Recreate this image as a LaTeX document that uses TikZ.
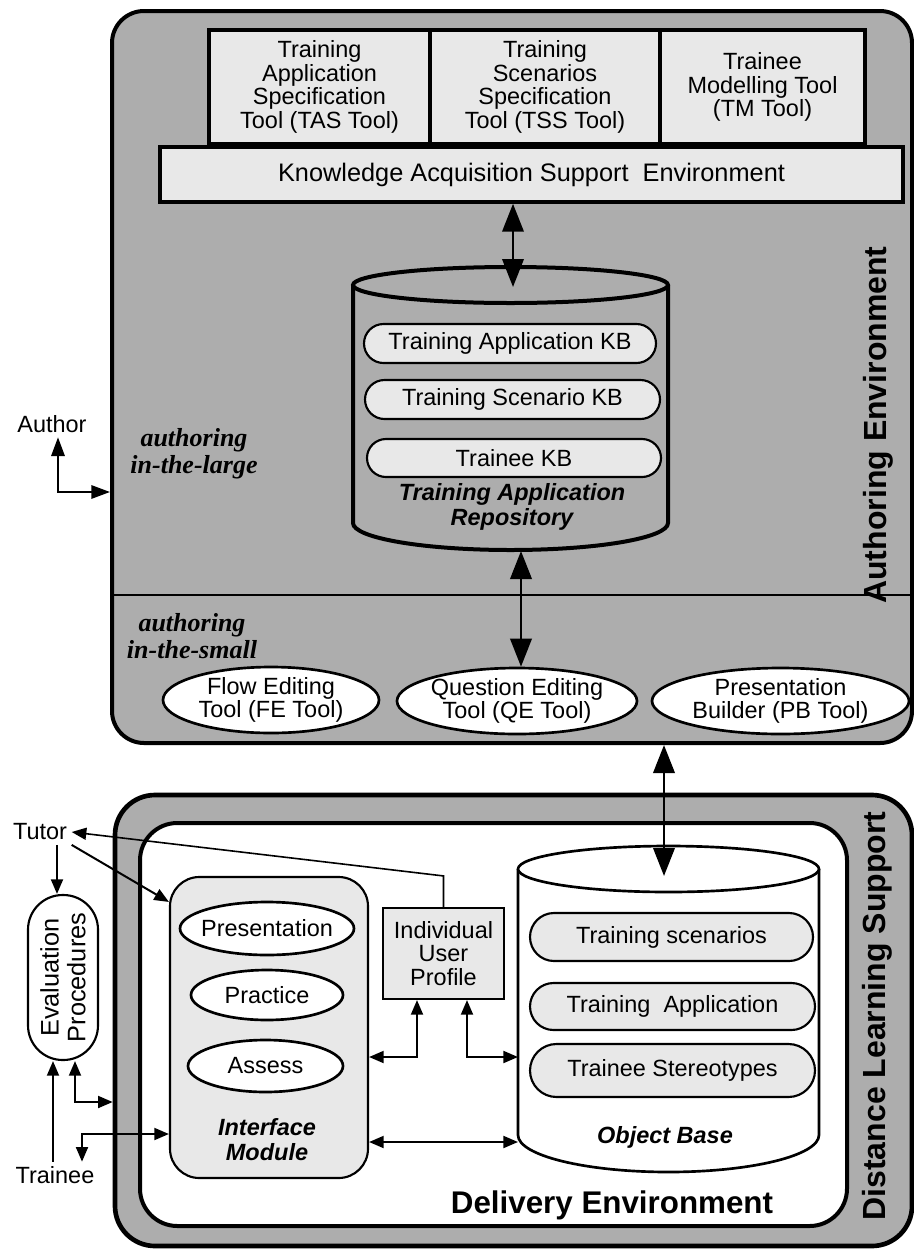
\documentclass[tikz,border=0pt]{standalone}
\usepackage{fontspec}
\setmainfont{Liberation Sans}
\newfontfamily\timesfont{Liberation Serif}
\usetikzlibrary{fit,shapes.misc,shapes.geometric,arrows.meta}

\definecolor{envgray}{gray}{0.68}
\definecolor{dotgray}{gray}{0.91}

\tikzset{
envbox/.style={draw=black, line width=3pt, fill=envgray, rounded corners=24pt, inner sep=0pt},
toolbox/.style={draw=black, line width=2.6pt, fill=dotgray, inner sep=0pt, align=center},
kbpill/.style={draw=black, line width=1.6pt, fill=dotgray, shape=rounded rectangle, inner sep=0pt},
toolellipse/.style={draw=black, line width=2pt, fill=white, shape=ellipse, inner sep=0pt},
bigarrow/.style={line width=2pt, >={Triangle[length=21pt,width=16pt]}, <->},
conn/.style={line width=1.5pt},
titletext/.style={rotate=90, font=\bfseries\fontsize{24}{26}\selectfont},
bitext/.style={font=\bfseries\itshape\fontsize{17.6}{18.8}\selectfont, align=center},
serifbi/.style={font=\timesfont\bfseries\itshape\fontsize{19.5}{20}\selectfont, align=center}
}

\begin{document}
\begin{tikzpicture}[x=0.75pt, y=-0.75pt, >={Triangle[length=11pt,width=9pt]},
every node/.style={font=\fontsize{17.6}{17.8}\selectfont}]
\useasboundingbox (0,0) rectangle (914,1250);

\node[envbox, fit={(112,11) (912,743)}] (authenv) {};
\coordinate (divl) at (112,595);
\coordinate (divr) at (912,595);
\draw[line width=1.5pt] (divl) -- (divr);

\node[toolbox, minimum width=165.75pt, minimum height=85.5pt] (tas) at (319.5,87) {Training\\Application\\Specification\\Tool (TAS Tool)};
\node[toolbox, minimum width=172.5pt, minimum height=85.5pt] (tss) at (545,87) {Training\\Scenarios\\Specification\\Tool (TSS Tool)};
\node[toolbox, minimum width=153.75pt, minimum height=85.5pt] (tm) at (762.5,87) {Trainee\\Modelling Tool\\(TM Tool)};
\node[toolbox, minimum width=557.25pt, minimum height=41.25pt, font=\fontsize{19}{20}\selectfont] (kase) at (531.5,174.5) {Knowledge Acquisition Support\ \ Environment};

\coordinate (tar-w) at (353,285);
\coordinate (tar-e) at (668,285);
\coordinate (tartop) at (513,287);
\coordinate (tarbot) at (521,551);
\draw[line width=3pt] (510.5,285) ellipse [x radius=157.5, y radius=18];
\draw[line width=3pt] (tar-w) -- (353,523) arc [start angle=180, end angle=0, x radius=157.5, y radius=27] -- (tar-e);
\node[kbpill, minimum width=219pt, minimum height=29.25pt] (takb) at (510,343.5) {Training Application KB};
\node[kbpill, minimum width=221.25pt, minimum height=29.25pt] (tskb) at (512.5,399.5) {Training Scenario KB};
\node[kbpill, minimum width=220.5pt, minimum height=28.5pt] (tkb) at (514,458) {Trainee KB};
\node[bitext] (tarlabel) at (512,507) {Training Application\\Repository};

\node[serifbi] (large) at (194,454) {authoring\\in-the-large};
\node[serifbi] (small) at (192,636) {authoring\\in-the-small};
\node[titletext] (authtitle) at (878,425) {Authoring Environment};

\node[toolellipse, minimum width=162pt, minimum height=49.5pt, label={[align=center]center:{Flow Editing\\Tool (FE Tool)}}] (fe) at (271,700) {};
\node[toolellipse, minimum width=180pt, minimum height=49.5pt, label={[align=center]center:{Question Editing\\Tool (QE Tool)}}] (qe) at (517,701) {};
\node[toolellipse, minimum width=192.75pt, minimum height=49.5pt, label={[align=center]center:{Presentation\\Builder (PB Tool)}}] (pb) at (780.5,701) {};

\node (author) at (52,424) {Author};
\coordinate (authcorner) at (58,492);
\draw[conn, >={Triangle[length=14pt,width=10pt]}, <->] (author.south -| authcorner) -- (authcorner) -- (authenv.west |- authcorner);

\node[envbox, fit={(115,795) (912,1246)}, rounded corners=30pt, line width=3.5pt] (dls) {};
\node[draw=black, line width=3pt, fill=white, rounded corners=28pt, inner sep=0pt, fit={(140,823) (847,1226)}] (delivery) {};
\node[titletext] (dlstitle) at (877,1016) {Distance Learning Support};
\node[font=\bfseries\fontsize{23.5}{25}\selectfont] (deltitle) at (612,1205) {Delivery Environment};

\coordinate (ob-w) at (518,869);
\coordinate (ob-e) at (819,869);
\coordinate (obtop) at (664,876);
\fill[white] (ob-w) -- (518,1135) arc [start angle=180, end angle=0, x radius=150.5, y radius=37] -- (ob-e) -- cycle;
\draw[line width=2pt] (ob-w) -- (518,1135) arc [start angle=180, end angle=0, x radius=150.5, y radius=37] -- (ob-e);
\draw[line width=2pt, fill=white] (668.5,869) ellipse [x radius=150.5, y radius=23];
\node[kbpill, minimum width=212.25pt, minimum height=36pt] (tscen) at (671.5,937) {Training scenarios};
\node[kbpill, minimum width=213.75pt, minimum height=35.25pt] (tapp) at (672.5,1006.5) {Training\ \ Application};
\node[kbpill, minimum width=213.75pt, minimum height=39.75pt] (tster) at (672.5,1070.5) {Trainee Stereotypes};
\node[bitext] (oblabel) at (665,1137) {Object Base};

\node[draw=black, line width=1.6pt, fill=dotgray, rounded corners=22pt, inner sep=0pt, fit={(170,877) (368,1178)}] (im) {};
\node[toolellipse, minimum width=130.5pt, minimum height=39.75pt, label=center:Presentation] (pres) at (267,928.5) {};
\node[toolellipse, minimum width=114pt, minimum height=37.5pt, label=center:Practice] (prac) at (267,995) {};
\node[toolellipse, minimum width=116.25pt, minimum height=39pt, label=center:Assess] (assess) at (265.5,1066) {};
\node[bitext] (imlabel) at (267,1140) {Interface\\Module};

\node[toolbox, line width=1.6pt, minimum width=90.75pt, minimum height=68.25pt] (iup) at (443.5,953.5) {Individual\\User\\Profile};

\node[draw=black, line width=1.6pt, fill=white, rounded corners=26pt, inner sep=0pt, fit={(28,895) (98,1060)}, label={[rotate=90, align=center, font=\fontsize{19}{20}\selectfont]center:{Evaluation\\Procedures}}] (eval) {};
\node (tutor) at (40,832) {Tutor};
\node (trainee) at (55,1175) {Trainee};

\draw[bigarrow] (kase.south -| tartop) -- (tartop);
\draw[bigarrow] (tarbot) -- (qe.north -| tarbot);
\draw[bigarrow] (authenv.south -| obtop) -- (obtop);

\coordinate (tev) at (57,843);
\draw[conn, ->] (tutor.south -| tev) -- (tev |- eval.north);
\draw[conn, ->] (tutor.south east) -- ([yshift=-19.5pt]im.north west);
\draw[line width=1.2pt, ->] (iup.north) -- ++(0,-31) -- (tutor.east);
\coordinate (evdl) at (75,1102);
\draw[conn, <->] (evdl |- eval.south) -- (evdl) -- (dls.west |- evdl);
\coordinate (tre) at (53,1160);
\draw[conn, ->] (trainee.north -| tre) -- (tre |- eval.south);
\coordinate (trim) at (82,1134);
\draw[conn, <->] (trainee.north -| trim) -- (trim) -- (im.west |- trim);
\coordinate (imiup) at (417,1057);
\draw[conn, <->] (im.east |- imiup) -- (imiup) -- (imiup |- iup.south);
\coordinate (iupob) at (467,1057);
\draw[conn, <->] (iup.south -| iupob) -- (iupob) -- (ob-w |- iupob);
\coordinate (imob) at (440,1142);
\draw[conn, <->] (im.east |- imob) -- (ob-w |- imob);
\end{tikzpicture}
\end{document}
